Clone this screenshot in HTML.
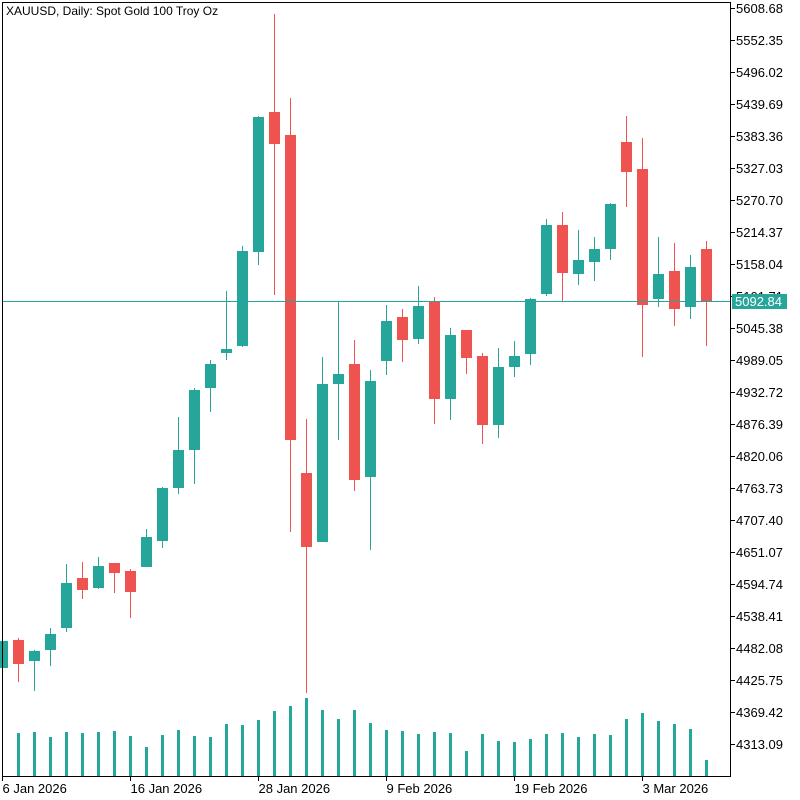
<!DOCTYPE html>
<html><head><meta charset="utf-8"><style>
html,body{margin:0;padding:0;background:#fff;}
svg{display:block;font-family:"Liberation Sans","DejaVu Sans",sans-serif;}
</style></head><body>
<svg id="chart" width="800" height="800" viewBox="0 0 800 800" xmlns="http://www.w3.org/2000/svg" shape-rendering="crispEdges">
<defs><clipPath id="plotclip"><rect x="4" y="3" width="726" height="773"/></clipPath></defs>
<rect width="800" height="800" fill="#fff"/>
<g id="vol" clip-path="url(#plotclip)"></g>
<g id="cdl"></g>
<g id="yax"></g>
<g id="xax"></g>
<rect x="2.5" y="2.5" width="728" height="774" fill="none" stroke="#000" stroke-width="1"/>
<text x="6" y="15" font-size="12" fill="#000">XAUUSD, Daily:  Spot Gold 100 Troy Oz</text>
</svg>
<script>
const opens  = [4446.9,4496.2,4459.2,4478.6,4517.3,4605.3,4587.7,4631.7,4617.6,4624.7,4670.5,4763.7,4830.6,4939.8,5001.4,5013.7,5179.2,5425.6,5385.1,4790.1,4668.7,4946.8,4982.0,4783.1,4987.3,5064.7,5026.0,5092.9,4920.4,5041.9,4996.1,4874.6,4976.7,4999.6,5105.2,5226.7,5140.4,5161.6,5184.4,5372.8,5325.3,5096.4,5145.7,5082.3,5184.4];
const highs  = [4503.2,4499.7,4478.6,4517.3,4629.9,4633.5,4642.3,4631.7,4621.1,4691.6,4765.5,4888.7,4939.8,4989.1,5110.5,5189.7,5418.6,5598.1,5450.3,4885.2,4994.3,5092.9,5024.3,4971.5,5085.9,5078.8,5119.3,5099.9,5045.4,5041.9,5001.4,5010.2,5022.5,5098.2,5237.3,5249.6,5217.9,5205.6,5265.4,5418.6,5379.8,5205.6,5195.0,5173.9,5198.5];
const lows   = [4443.4,4422.2,4406.4,4450.4,4510.3,4568.3,4586.0,4578.9,4534.9,4624.7,4658.1,4753.2,4770.8,4897.5,4989.1,5011.9,5156.3,5103.5,4686.3,4402.9,4668.7,4848.2,4758.5,4654.6,4962.7,4985.5,5017.2,4876.4,4883.4,4964.4,4841.2,4851.7,4959.1,4980.2,5101.7,5092.9,5121.1,5128.1,5165.1,5258.4,4994.3,5082.3,5048.9,5061.2,5013.7];
const closes = [4494.4,4453.9,4476.8,4506.7,4596.5,4584.2,4626.5,4614.1,4580.7,4677.5,4763.7,4830.6,4936.2,4982.0,5008.4,5180.9,5416.8,5369.3,4848.2,4659.8,4946.8,4964.4,4777.8,4952.1,5057.7,5024.3,5084.1,4920.4,5033.1,4992.6,4874.6,4976.7,4996.1,5096.4,5226.7,5142.2,5165.1,5184.4,5263.7,5320.0,5085.9,5140.4,5078.8,5152.8,5092.84];
const volumes = [44,43,44,39,44,43,44,45,40,29,41,46,40,39,52,51,56,65,70,78,66,57,66,53,46,45,42,44,43,25,42,35,34,37,42,43,39,42,41,57,63,55,52,47,16];
const priceTicks = ["5608.68","5552.35","5496.02","5439.69","5383.36","5327.03","5270.70","5214.37","5158.04","5101.71","5045.38","4989.05","4932.72","4876.39","4820.06","4763.73","4707.40","4651.07","4594.74","4538.41","4482.08","4425.75","4369.42","4313.09"];
const dateLabels = ["6 Jan 2026","16 Jan 2026","28 Jan 2026","9 Feb 2026","19 Feb 2026","3 Mar 2026"];
const dateIndex = [0,8,16,24,32,40];
const lastPrice = 5092.84;

const NS="http://www.w3.org/2000/svg";
const PMAX=5608.68, PSTEP=56.33, PXSTEP=32, Y0=8;
function yP(p){return Y0+(PMAX-p)*PXSTEP/PSTEP;}
function xI(i){return 2+16*i;}
const VBASE=776;
function yV(v){return VBASE - v;}
function mk(tag,attrs,parent){const e=document.createElementNS(NS,tag);for(const k in attrs)e.setAttribute(k,attrs[k]);parent.appendChild(e);return e;}
const G="#26a69a", R="#ef5350";
const vol=document.getElementById('vol'), cdl=document.getElementById('cdl'), yax=document.getElementById('yax'), xax=document.getElementById('xax');

volumes.forEach((v,i)=>{
  const r=mk('rect',{x:xI(i)-1,y:Math.round(yV(v)),width:3,height:VBASE-Math.round(yV(v)),fill:G},vol);
  
  
});

opens.forEach((o,i)=>{
  const c=closes[i], up=c>=o, col=up?G:R, x=xI(i);
  const g=mk('g',{},cdl);
  
  
  const hy=Math.round(yP(highs[i])), lyy=Math.round(yP(lows[i]));
  mk('rect',{x:x,y:hy,width:1,height:lyy-hy,fill:col},g);
  const top=Math.round(yP(Math.max(o,c))), bot=Math.round(yP(Math.min(o,c)));
  mk('rect',{x:x-5,y:top,width:11,height:Math.max(2,bot-top),fill:col},g);
});

const lpY=Math.round(yP(lastPrice))+0.5;
const pl=mk('line',{x1:3,x2:731,y1:lpY,y2:lpY,stroke:G,'stroke-width':1},cdl);



priceTicks.forEach(t=>{
  const y=Math.round(yP(parseFloat(t)))+0.5;
  mk('line',{x1:730,x2:735,y1:y,y2:y,stroke:'#000'},yax);
  const tx=mk('text',{x:736,y:y+4.5,'font-size':13,fill:'#000'},yax);
  tx.textContent=t;
  
  
});
const ly=yP(lastPrice);
const box=mk('rect',{x:732,y:Math.round(ly-7.5),width:55,height:15,fill:G},yax);


const bt=mk('text',{x:735,y:ly+5,'font-size':13,fill:'#fff'},yax);
bt.textContent=lastPrice.toFixed(2);



dateLabels.forEach((d,j)=>{
  const x=xI(dateIndex[j])+0.5;
  mk('line',{x1:x,x2:x,y1:776,y2:781,stroke:'#000'},xax);
  const tx=mk('text',{x:x,y:793,'font-size':13,fill:'#000'},xax);
  tx.textContent=d;
  
  
});
</script>
</body></html>
